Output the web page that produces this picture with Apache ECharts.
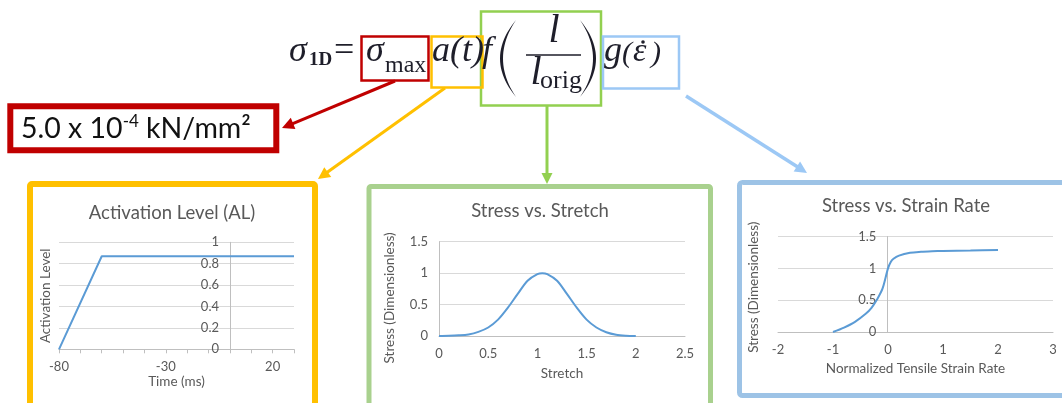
<!DOCTYPE html>
<html><head><meta charset="utf-8">
<script src="https://cdn.jsdelivr.net/npm/echarts@6/dist/echarts.min.js"></script>
<style>html,body{margin:0;padding:0;background:#fff}#c{width:1062px;height:403px}</style>
</head><body><div id="c"></div>
<script>
// ---- data ----
const alTime = [-80, -60, 30];
const alLevel = [0, 0.87, 0.87];
const alTimeTickLabels = [-80, -30, 20];

const stretchX = [0, 0.1, 0.2, 0.3, 0.4, 0.5, 0.6, 0.7, 0.8, 0.9, 1.0, 1.05, 1.1, 1.2, 1.3, 1.4, 1.5, 1.6, 1.7, 1.8, 1.9, 2.0];
const stretchStress = [0, 0.003, 0.01, 0.025, 0.065, 0.135, 0.26, 0.45, 0.67, 0.88, 0.985, 1.0, 0.985, 0.88, 0.67, 0.45, 0.26, 0.135, 0.06, 0.02, 0.005, 0];

const rateX = [-1, -0.8, -0.6, -0.4, -0.3, -0.2, -0.1, 0, 0.05, 0.1, 0.2, 0.4, 0.6, 0.8, 1, 1.5, 2];
const rateStress = [0, 0.07, 0.16, 0.29, 0.38, 0.51, 0.68, 1.0, 1.1, 1.15, 1.2, 1.245, 1.26, 1.268, 1.273, 1.28, 1.288];

const titles = ['Activation Level (AL)', 'Stress vs. Stretch', 'Stress vs. Strain Rate'];
const valueText = ['5.0 x 10', '-4', ' kN/mm²'];

// ---- styling ----
const SANS = 'Lato';
const SERIF = 'Liberation Serif';
const GRAY = '#595959';
const AXIS = '#bfbfbf';
const GRID = '#d9d9d9';
const BLUE = '#5b9bd5';
const EQ = '#1e1e2a';

function zip(a, b) { return a.map((v, i) => [v, b[i]]); }

function eqText(str, x, base, size, o) {
  o = o || {};
  return {
    type: 'text', x: x, y: base - 0.3375 * size, silent: true,
    style: {
      text: str, fontFamily: SERIF, fontSize: size,
      fontStyle: o.italic ? 'italic' : 'normal',
      fontWeight: o.bold ? 'bold' : 'normal',
      fill: EQ, align: o.align || 'left', verticalAlign: 'middle'
    }
  };
}
function rectEl(x, y, w, h, color, lw, r) {
  return { type: 'rect', silent: true, shape: { x: x, y: y, width: w, height: h, r: r || 0 },
    style: { fill: 'none', stroke: color, lineWidth: lw } };
}
function arrowEls(x1, y1, x2, y2, color, lw, hl, hw) {
  const dx = x2 - x1, dy = y2 - y1, L = Math.sqrt(dx * dx + dy * dy);
  const ux = dx / L, uy = dy / L, px = -uy, py = ux;
  const bx = x2 - ux * hl, by = y2 - uy * hl;
  return [
    { type: 'line', silent: true, shape: { x1: x1, y1: y1, x2: bx + ux * 1, y2: by + uy * 1 },
      style: { stroke: color, lineWidth: lw } },
    { type: 'polygon', silent: true, shape: { points: [[x2, y2], [bx + px * hw, by + py * hw], [bx - px * hw, by - py * hw]] },
      style: { fill: color } }
  ];
}
// big parenthesis as a crescent polygon
function paren(xEnd, y1, y2, xOuter, xInner) {
  const cO = 2 * xOuter - xEnd, cI = 2 * xInner - xEnd, my = (y1 + y2) / 2;
  const pts = [];
  const q = (p0, c, p1, t) => (1 - t) * (1 - t) * p0 + 2 * (1 - t) * t * c + t * t * p1;
  for (let i = 0; i <= 24; i++) { const t = i / 24; pts.push([q(xEnd, cO, xEnd, t), q(y1, my, y2, t)]); }
  for (let i = 24; i >= 0; i--) { const t = i / 24; pts.push([q(xEnd, cI, xEnd, t), q(y1, my, y2, t)]); }
  return { type: 'polygon', silent: true, shape: { points: pts }, style: { fill: EQ } };
}

const axisLabel = { color: GRAY, fontSize: 13, fontFamily: SANS, margin: 11 };
const nameStyle = { color: GRAY, fontSize: 13.5, fontFamily: SANS };

const graphics = [
  // panels
  rectEl(30, 184, 285, 260, '#ffc000', 6, 2),
  rectEl(369, 186.5, 341.5, 260, '#a9d18e', 5, 2),
  rectEl(739.5, 182.5, 340, 213, '#9dc3e6', 5, 3),
  // value box
  rectEl(10.3, 106.3, 266, 44, '#c00000', 6, 0),
  {
    type: 'text', x: 21, y: 129, silent: true,
    style: {
      text: '{a|' + valueText[0] + '}{s|' + valueText[1] + '}{a|' + valueText[2] + '}',
      verticalAlign: 'middle', align: 'left',
      rich: {
        a: { fontFamily: SANS, fontSize: 28.5, fill: '#111', lineHeight: 32 },
        s: { fontFamily: SANS, fontSize: 17, fill: '#111', verticalAlign: 'top', lineHeight: 32 }
      }
    }
  },
  // equation boxes
  rectEl(481, 11.5, 120, 94, '#92d050', 2.5),
  rectEl(361.5, 36.5, 67, 44, '#c00000', 2.5),
  rectEl(431.5, 36.5, 51, 51, '#ffc000', 2.5),
  rectEl(603, 36.5, 76, 52, '#9cc8f5', 2.5),
  // arrows
  ...arrowEls(395, 81, 282, 128, '#c00000', 3, 12, 6),
  ...arrowEls(445, 88, 318, 179, '#ffc000', 3, 12, 6),
  ...arrowEls(547, 106, 547, 184, '#92d050', 3, 11, 5.5),
  ...arrowEls(686, 96, 807, 173, '#9cc8f5', 3.5, 12, 6),
  // equation
  eqText('σ', 289, 64, 36, { italic: true }),
  eqText('1D', 309, 67, 19, { bold: true }),
  eqText('=', 334, 64, 36),
  eqText('σ', 366, 64, 36, { italic: true }),
  eqText('max', 385, 74, 24),
  eqText('a(t)', 432, 64, 36, { italic: true }),
  eqText('f', 482, 64, 36, { italic: true }),
  paren(516, 20, 97, 500, 503),
  eqText('l', 554, 45, 40, { italic: true, align: 'center' }),
  { type: 'line', silent: true, shape: { x1: 526, y1: 55, x2: 581, y2: 55 }, style: { stroke: EQ, lineWidth: 1.5 } },
  eqText('l', 536, 87, 40, { italic: true, align: 'center' }),
  eqText('orig', 540, 90, 26),
  paren(580, 20, 97, 596, 593),
  eqText('g', 604, 64, 36, { italic: true }),
  eqText('(', 622, 64, 30, { italic: true }),
  eqText('ε', 633, 64, 34, { italic: true }),
  { type: 'circle', silent: true, shape: { cx: 643, cy: 42, r: 1.8 }, style: { fill: EQ } },
  eqText(')', 651, 64, 30, { italic: true })
];

const titleStyle = { fontFamily: SANS, fontSize: 18.5, fontWeight: 'normal', color: GRAY };
const gridBase = { containLabel: false, outerBoundsMode: 'none' };
const option = {
  animation: false,
  backgroundColor: '#fff',
  title: [
    { text: titles[0], left: 172, top: 204, textAlign: 'center', padding: 0, textStyle: titleStyle },
    { text: titles[1], left: 540, top: 202, textAlign: 'center', padding: 0, textStyle: titleStyle },
    { text: titles[2], left: 906, top: 197, textAlign: 'center', padding: 0, textStyle: titleStyle }
  ],
  grid: [
    Object.assign({ left: 59, top: 242.3, width: 235, height: 107 }, gridBase),
    Object.assign({ left: 439, top: 241.7, width: 246, height: 94.3 }, gridBase),
    Object.assign({ left: 778, top: 236.5, width: 275, height: 95.5 }, gridBase)
  ],
  xAxis: [
    { gridIndex: 0, type: 'value', min: -80, max: 30, interval: 10,
      axisLine: { lineStyle: { color: AXIS } },
      axisTick: { show: true, length: 4, lineStyle: { color: AXIS } },
      axisLabel: Object.assign({}, axisLabel, { formatter: v => alTimeTickLabels.indexOf(v) >= 0 ? String(v) : '' }),
      splitLine: { show: false },
      name: 'Time (ms)', nameLocation: 'middle', nameGap: 24, nameTextStyle: nameStyle },
    { gridIndex: 1, type: 'value', min: 0, max: 2.5, interval: 0.5,
      axisLine: { lineStyle: { color: AXIS } }, axisTick: { show: false },
      axisLabel: axisLabel, splitLine: { show: false },
      name: 'Stretch', nameLocation: 'middle', nameGap: 31, nameTextStyle: nameStyle },
    { gridIndex: 2, type: 'value', min: -2, max: 3, interval: 1,
      axisLine: { lineStyle: { color: AXIS } }, axisTick: { show: false },
      axisLabel: axisLabel, splitLine: { show: false },
      name: 'Normalized Tensile Strain Rate', nameLocation: 'middle', nameGap: 30, nameTextStyle: nameStyle }
  ],
  yAxis: [
    { gridIndex: 0, type: 'value', min: 0, max: 1, interval: 0.2, offset: -171,
      axisLine: { show: true, onZero: false, lineStyle: { color: AXIS } }, axisTick: { show: false },
      axisLabel: axisLabel, splitLine: { lineStyle: { color: GRID } },
      name: 'Activation Level', nameLocation: 'middle', nameGap: 177, nameTextStyle: nameStyle },
    { gridIndex: 1, type: 'value', min: 0, max: 1.5, interval: 0.5,
      axisLine: { show: true, onZero: false, lineStyle: { color: AXIS } }, axisTick: { show: false },
      axisLabel: axisLabel, splitLine: { lineStyle: { color: GRID } },
      name: 'Stress (Dimensionless)', nameLocation: 'middle', nameGap: 42,
      nameTextStyle: Object.assign({}, nameStyle, { padding: [0, 18, 0, 0] }) },
    { gridIndex: 2, type: 'value', min: 0, max: 1.5, interval: 0.5, offset: -109.3,
      axisLine: { show: true, onZero: false, lineStyle: { color: AXIS } }, axisTick: { show: false },
      axisLabel: axisLabel, splitLine: { lineStyle: { color: GRID } },
      name: 'Stress (Dimensionless)', nameLocation: 'middle', nameGap: 127,
      nameTextStyle: Object.assign({}, nameStyle, { padding: [0, 6, 0, 0] }) }
  ],
  series: [
    { type: 'line', xAxisIndex: 0, yAxisIndex: 0, data: zip(alTime, alLevel), showSymbol: false,
      lineStyle: { color: BLUE, width: 2 }, itemStyle: { color: BLUE } },
    { type: 'line', xAxisIndex: 1, yAxisIndex: 1, data: zip(stretchX, stretchStress), showSymbol: false, smooth: 0.3,
      lineStyle: { color: BLUE, width: 2 }, itemStyle: { color: BLUE } },
    { type: 'line', xAxisIndex: 2, yAxisIndex: 2, data: zip(rateX, rateStress), showSymbol: false, smooth: 0.3,
      lineStyle: { color: BLUE, width: 2 }, itemStyle: { color: BLUE } }
  ],
  graphic: graphics
};

const chart = echarts.init(document.getElementById('c'), null, { renderer: 'canvas' });
chart.setOption(option);
</script>
</body></html>
